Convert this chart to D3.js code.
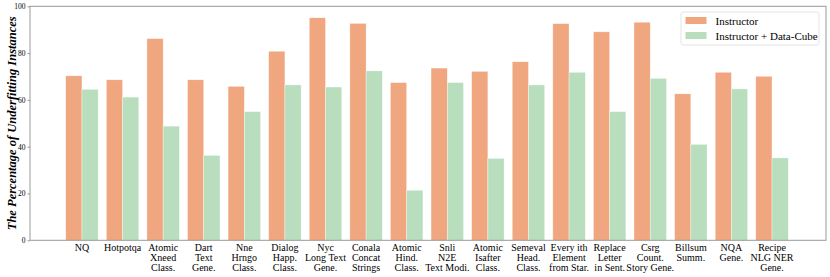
<!DOCTYPE html>
<html>
<head>
<meta charset="utf-8">
<script src="https://cdn.jsdelivr.net/npm/d3@7"></script>
<style>
    body { margin: 0; background: #fff; }
    svg text { font-family: "Liberation Serif", "Times New Roman", serif; }
</style>
</head>
<body>
<svg id="chart"></svg>
<script>
// categories, one label per line
const categories = [
    ['NQ'], ['Hotpotqa'], ['Atomic', 'Xneed', 'Class.'], ['Dart', 'Text', 'Gene.'],
    ['Nne', 'Hrngo', 'Class.'], ['Dialog', 'Happ.', 'Class.'], ['Nyc', 'Long Text', 'Gene.'],
    ['Conala', 'Concat', 'Strings'], ['Atomic', 'Hind.', 'Class.'], ['Snli', 'N2E', 'Text Modi.'],
    ['Atomic', 'Isafter', 'Class.'], ['Semeval', 'Head.', 'Class.'], ['Every ith', 'Element', 'from Star.'],
    ['Replace', 'Letter', 'in Sent.'], ['Csrg', 'Count.', 'Story Gene.'], ['Billsum', 'Summ.'],
    ['NQA', 'Gene.'], ['Recipe', 'NLG NER', 'Gene.']
];
const seriesNames = ['Instructor', 'Instructor + Data-Cube'];
const instructor = [70.3, 68.6, 86.2, 68.6, 65.8, 80.8, 95.1, 92.7, 67.4, 73.6, 72.2, 76.3, 92.6, 89.1, 93.2, 62.6, 71.8, 70.1];
const dataCube = [64.5, 61.2, 48.8, 36.3, 55.0, 66.4, 65.5, 72.4, 21.4, 67.4, 35.0, 66.4, 71.8, 55.0, 69.2, 41.0, 64.7, 35.2];
const yTicks = [0, 20, 40, 60, 80, 100];
const colors = ['#F0A67F', '#B8DEBE'];

const width = 830, height = 277;
const plot = { left: 30, right: 826, top: 6.3, bottom: 240.3 };

const svg = d3.select('#chart')
    .attr('width', width)
    .attr('height', height);

const x = d3.scaleLinear()
    .domain([-1.28, categories.length - 1 + 1.33])
    .range([plot.left, plot.right]);

const y = d3.scaleLinear()
    .domain([0, 100])
    .range([plot.bottom, plot.top]);

const barW = 0.4;
const series = [instructor, dataCube];

series.forEach((vals, s) => {
    svg.append('g')
        .selectAll('rect')
        .data(vals)
        .join('rect')
        .attr('x', (d, i) => x(i + (s - 1) * barW))
        .attr('width', x(barW) - x(0))
        .attr('y', d => y(d))
        .attr('height', d => y(0) - y(d))
        .attr('fill', colors[s])
        .attr('stroke', '#fff')
        .attr('stroke-opacity', 0.6)
        .attr('stroke-width', 0.6);
});

// frame
svg.append('rect')
    .attr('x', plot.left)
    .attr('y', plot.top)
    .attr('width', plot.right - plot.left)
    .attr('height', plot.bottom - plot.top)
    .attr('fill', 'none')
    .attr('stroke', '#999')
    .attr('stroke-width', 1);

// y axis
const yAxis = d3.axisLeft(y)
    .tickValues(yTicks)
    .tickSize(2.5)
    .tickPadding(2);

const yAxisG = svg.append('g')
    .attr('transform', `translate(${plot.left},0)`)
    .call(yAxis);
yAxisG.select('.domain').remove();
yAxisG.selectAll('line').attr('stroke', '#999');
yAxisG.selectAll('text')
    .style('font-family', '"Liberation Serif", serif')
    .style('font-size', '7.5px')
    .attr('fill', '#000');

// x labels
const xLabels = svg.append('g');
categories.forEach((lines, i) => {
    const t = xLabels.append('text')
        .attr('x', x(i))
        .attr('y', plot.bottom + 11)
        .attr('text-anchor', 'middle')
        .style('font-size', '10px')
        .attr('fill', '#000');
    lines.forEach((line, j) => {
        t.append('tspan')
            .attr('x', x(i))
            .attr('dy', j === 0 ? 0 : 10)
            .text(line);
    });
});

// y title
svg.append('text')
    .attr('transform', `translate(16,${(plot.top + plot.bottom) / 2}) rotate(-90)`)
    .attr('text-anchor', 'middle')
    .style('font-size', '12.5px')
    .style('font-weight', 'bold')
    .style('font-style', 'italic')
    .text('The Percentage of Underfitting Instances');

// legend
const legend = svg.append('g')
    .attr('transform', 'translate(681,12)');
legend.append('rect')
    .attr('width', 138)
    .attr('height', 33)
    .attr('rx', 2)
    .attr('fill', '#fff')
    .attr('stroke', '#ddd')
    .attr('stroke-width', 0.8);
seriesNames.forEach((name, i) => {
    legend.append('rect')
        .attr('x', 4.5)
        .attr('y', 5 + i * 15)
        .attr('width', 21)
        .attr('height', 7)
        .attr('fill', colors[i]);
    legend.append('text')
        .attr('x', 34.5)
        .attr('y', 12.5 + i * 15)
        .style('font-size', '11px')
        .text(name);
});
</script>
</body>
</html>
